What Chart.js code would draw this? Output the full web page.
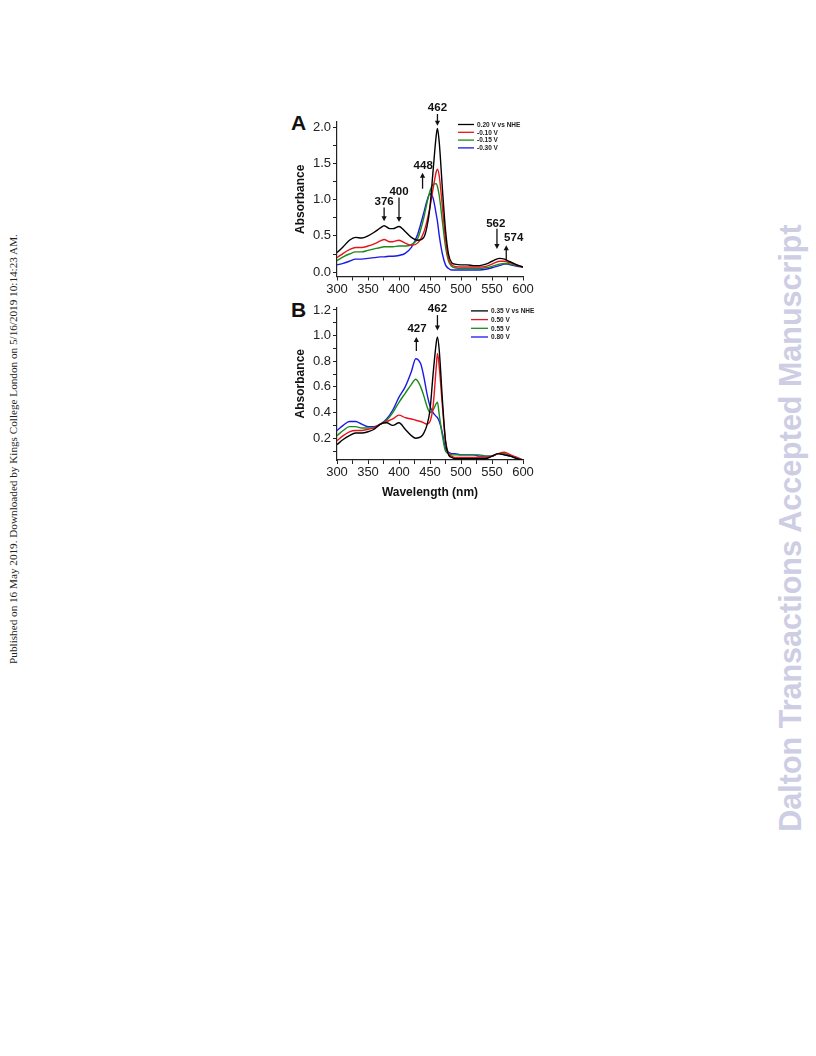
<!DOCTYPE html>
<html>
<head>
<meta charset="utf-8">
<script src="https://cdn.jsdelivr.net/npm/chart.js@4.4.0/dist/chart.umd.min.js"></script>
<style>
  body { margin: 0; background: #fff; width: 816px; height: 1056px; position: relative; overflow: hidden; font-family: "Liberation Sans", Arial, sans-serif; }
  .box { position: absolute; }
  .side { position: absolute; white-space: nowrap; transform: translate(-50%, -50%) rotate(-90deg); }
  .letter { position: absolute; font-weight: bold; font-size: 21px; color: #111; }
</style>
</head>
<body>
<div class="side" style="left:13px; top:449px; font-family:'Liberation Serif','Times New Roman',serif; font-size:11.2px; color:#222;">Published on 16 May 2019. Downloaded by Kings College London on 5/16/2019 10:14:23 AM.</div>
<div class="side" style="left:790px; top:528px; font-weight:bold; font-size:30.5px; color:#cdcde4;">Dalton Transactions Accepted Manuscript</div>

<div class="letter" style="left:291px; top:111px;">A</div>
<div class="letter" style="left:291px; top:298px;">B</div>

<div class="box" style="left:285px; top:100px; width:255px; height:200px;"><canvas id="chartA" width="255" height="200"></canvas></div>
<div class="box" style="left:285px; top:290px; width:255px; height:210px;"><canvas id="chartB" width="255" height="210"></canvas></div>

<script>
// Panel A: reduction series
const wlA = [300, 310, 320, 330, 340, 350, 360, 370, 376, 385, 390, 400, 410, 420, 430, 440, 445, 450, 455, 460, 462, 465, 470, 475, 480, 485, 490, 500, 510, 520, 530, 540, 550, 562, 570, 575, 580, 590, 600];
const labelsA = ['0.20 V vs NHE', '-0.10 V', '-0.15 V', '-0.30 V'];
const a020 = [.27, .35, .44, .48, .47, .50, .55, .61, .64, .60, .60, .63, .56, .48, .44, .48, .62, .90, 1.40, 1.88, 1.98, 1.78, 1.15, .58, .24, .13, .11, .10, .10, .09, .09, .11, .15, .19, .18, .16, .14, .10, .07];
const am010 = [.20, .26, .31, .34, .34, .36, .39, .43, .45, .42, .42, .44, .40, .37, .40, .55, .70, .90, 1.15, 1.38, 1.42, 1.32, .90, .45, .18, .10, .08, .07, .07, .07, .07, .08, .11, .15, .15, .14, .13, .10, .07];
const am015 = [.16, .21, .25, .28, .28, .30, .32, .34, .35, .35, .35, .36, .36, .38, .46, .75, .95, 1.12, 1.21, 1.22, 1.18, 1.05, .70, .35, .15, .08, .06, .05, .05, .05, .05, .06, .08, .11, .12, .12, .11, .09, .07];
const am030 = [.10, .12, .15, .18, .18, .19, .20, .21, .21, .22, .22, .23, .26, .34, .52, .82, .98, 1.08, 1.02, .80, .70, .50, .25, .10, .05, .03, .03, .03, .03, .03, .03, .04, .06, .09, .11, .11, .10, .08, .07];

// Panel B: oxidation series
const wlB = [300, 310, 320, 330, 340, 350, 360, 370, 380, 390, 400, 410, 420, 427, 435, 440, 445, 450, 455, 460, 462, 465, 470, 475, 480, 485, 490, 500, 510, 520, 530, 540, 550, 560, 570, 580, 590, 600];
const labelsB = ['0.35 V vs NHE', '0.50 V', '0.55 V', '0.80 V'];
const b035 = [.15, .19, .22, .24, .24, .25, .27, .31, .32, .30, .32, .27, .22, .20, .21, .24, .30, .42, .70, .94, .99, .88, .50, .18, .07, .05, .04, .04, .04, .04, .04, .04, .06, .08, .07, .06, .04, .03];
const b050 = [.18, .22, .25, .26, .26, .27, .28, .31, .33, .35, .38, .36, .35, .34, .33, .32, .31, .33, .45, .75, .86, .75, .45, .18, .08, .06, .05, .05, .05, .05, .05, .05, .06, .08, .09, .07, .05, .03];
const b055 = [.22, .26, .29, .29, .28, .28, .28, .31, .34, .40, .48, .55, .62, .66, .60, .53, .45, .40, .42, .47, .48, .38, .22, .10, .08, .07, .07, .07, .07, .07, .07, .06, .06, .08, .08, .06, .05, .03];
const b080 = [.26, .30, .33, .33, .31, .29, .29, .31, .35, .42, .52, .60, .72, .82, .78, .68, .55, .45, .40, .37, .36, .33, .24, .12, .09, .08, .08, .07, .07, .07, .06, .06, .06, .08, .07, .06, .04, .03];

// peak markers: [label, text x, text y, arrow x, arrow from y, arrow to y]
const marksA = [
  ['462', 462, 2.27, 462, 2.18, 2.02],
  ['376', 376, 0.97, 376, 0.89, 0.70],
  ['400', 400, 1.11, 400, 1.03, 0.69],
  ['448', 439, 1.47, 438, 1.15, 1.37],
  ['562', 556, 0.67, 558, 0.60, 0.32],
  ['574', 585, 0.47, 573, 0.16, 0.37]
];
const marksB = [
  ['462', 462, 1.21, 462, 1.16, 1.04],
  ['427', 429, 1.05, 428, 0.88, 0.99]
];

const colors = ['#000000', '#e8141b', '#1b8a1b', '#1a1ae6'];
const font = '"Liberation Sans", Arial, sans-serif';

function series(wl, vals) {
  return vals.map((v, i) => ({ x: wl[i], y: v }));
}

function makeSets(wl, labels, all) {
  return all.map((vals, i) => ({
    label: labels[i],
    data: series(wl, vals),
    borderColor: colors[i],
    borderWidth: 1.4,
    pointRadius: 0,
    cubicInterpolationMode: 'monotone',
    fill: false
  }));
}

// arrows, peak labels and the small legend
const decor = {
  id: 'decor',
  afterDatasetsDraw(chart, args, opts) {
    const c = chart.ctx, xs = chart.scales.x, ys = chart.scales.y;
    c.save();
    c.fillStyle = '#111';
    c.strokeStyle = '#111';
    c.font = 'bold 11.5px ' + font;
    c.textAlign = 'center';
    c.textBaseline = 'middle';
    opts.marks.forEach(m => {
      c.fillText(m[0], xs.getPixelForValue(m[1]), ys.getPixelForValue(m[2]));
      const ax = xs.getPixelForValue(m[3]);
      const y1 = ys.getPixelForValue(m[4]), y2 = ys.getPixelForValue(m[5]);
      const dir = y2 > y1 ? 1 : -1;
      c.lineWidth = 1.3;
      c.beginPath();
      c.moveTo(ax, y1);
      c.lineTo(ax, y2 - dir * 4);
      c.stroke();
      c.beginPath();
      c.moveTo(ax, y2);
      c.lineTo(ax - 2.6, y2 - dir * 5);
      c.lineTo(ax + 2.6, y2 - dir * 5);
      c.closePath();
      c.fill();
    });
    // legend
    const lx = chart.chartArea.left + opts.legX, ly = chart.chartArea.top + opts.legY;
    c.textAlign = 'left';
    c.font = 'bold 6.5px ' + font;
    chart.data.datasets.forEach((d, i) => {
      const y = ly + i * opts.legGap;
      c.strokeStyle = d.borderColor;
      c.lineWidth = 1.3;
      c.beginPath();
      c.moveTo(lx, y);
      c.lineTo(lx + opts.legLen, y);
      c.stroke();
      c.fillStyle = '#222';
      c.fillText(d.label, lx + opts.legLen + 3, y + 0.5);
    });
    c.restore();
  }
};

function axisFont(size, bold) {
  return { family: font, size: size, weight: bold ? 'bold' : 'normal' };
}

function makeChart(id, wl, labels, all, cfg) {
  return new Chart(document.getElementById(id), {
    type: 'line',
    data: { datasets: makeSets(wl, labels, all) },
    plugins: [decor],
    options: {
      responsive: false,
      animation: false,
      layout: { padding: cfg.padding },
      plugins: {
        legend: { display: false },
        tooltip: { enabled: false },
        decor: cfg.decor
      },
      scales: {
        x: {
          type: 'linear',
          min: 300, max: 600,
          border: { color: '#222', width: 1.2 },
          grid: { drawOnChartArea: false, tickLength: 4, color: '#222' },
          ticks: {
            stepSize: 25, includeBounds: false, autoSkip: false, maxRotation: 0, padding: 1,
            color: '#222', font: axisFont(13),
            callback: v => (v % 50 === 0 ? String(v) : '')
          },
          title: cfg.xTitle,
          afterFit: s => { s.height = cfg.xHeight; }
        },
        y: {
          min: cfg.yMin, max: cfg.yMax,
          border: { color: '#222', width: 1.2 },
          grid: { drawOnChartArea: false, tickLength: 4, color: '#222' },
          ticks: {
            stepSize: cfg.yStep, includeBounds: false, autoSkip: false, padding: 2,
            color: '#222', font: axisFont(13),
            callback: v => {
              const k = v / (cfg.yStep * 2);
              if (Math.abs(k - Math.round(k)) > 1e-6 || v < cfg.yLabelMin - 1e-6) return '';
              return v.toFixed(1);
            }
          },
          title: { display: true, text: 'Absorbance', color: '#111', font: axisFont(12, true), padding: { top: 8, bottom: 0 } },
          afterFit: s => { s.width = 52; }
        }
      }
    }
  });
}

makeChart('chartA', wlA, labelsA, [a020, am010, am015, am030], {
  padding: { top: 22, right: 17, left: 0, bottom: 0 },
  yMin: -0.06, yMax: 2.07, yStep: 0.25, yLabelMin: 0,
  xHeight: 23.5,
  xTitle: { display: false },
  decor: { marks: marksA, legX: 121, legY: 2.5, legGap: 7.8, legLen: 16 }
});

makeChart('chartB', wlB, labelsB, [b035, b050, b055, b080], {
  padding: { top: 17.4, right: 17, left: 0, bottom: 0 },
  yMin: 0.03, yMax: 1.22, yStep: 0.1, yLabelMin: 0.2,
  xHeight: 40,
  xTitle: { display: true, text: 'Wavelength (nm)', color: '#111', font: axisFont(12, true), padding: { top: 2, bottom: 0 } },
  decor: { marks: marksB, legX: 134, legY: 3.5, legGap: 8.7, legLen: 17 }
});
</script>
</body>
</html>
